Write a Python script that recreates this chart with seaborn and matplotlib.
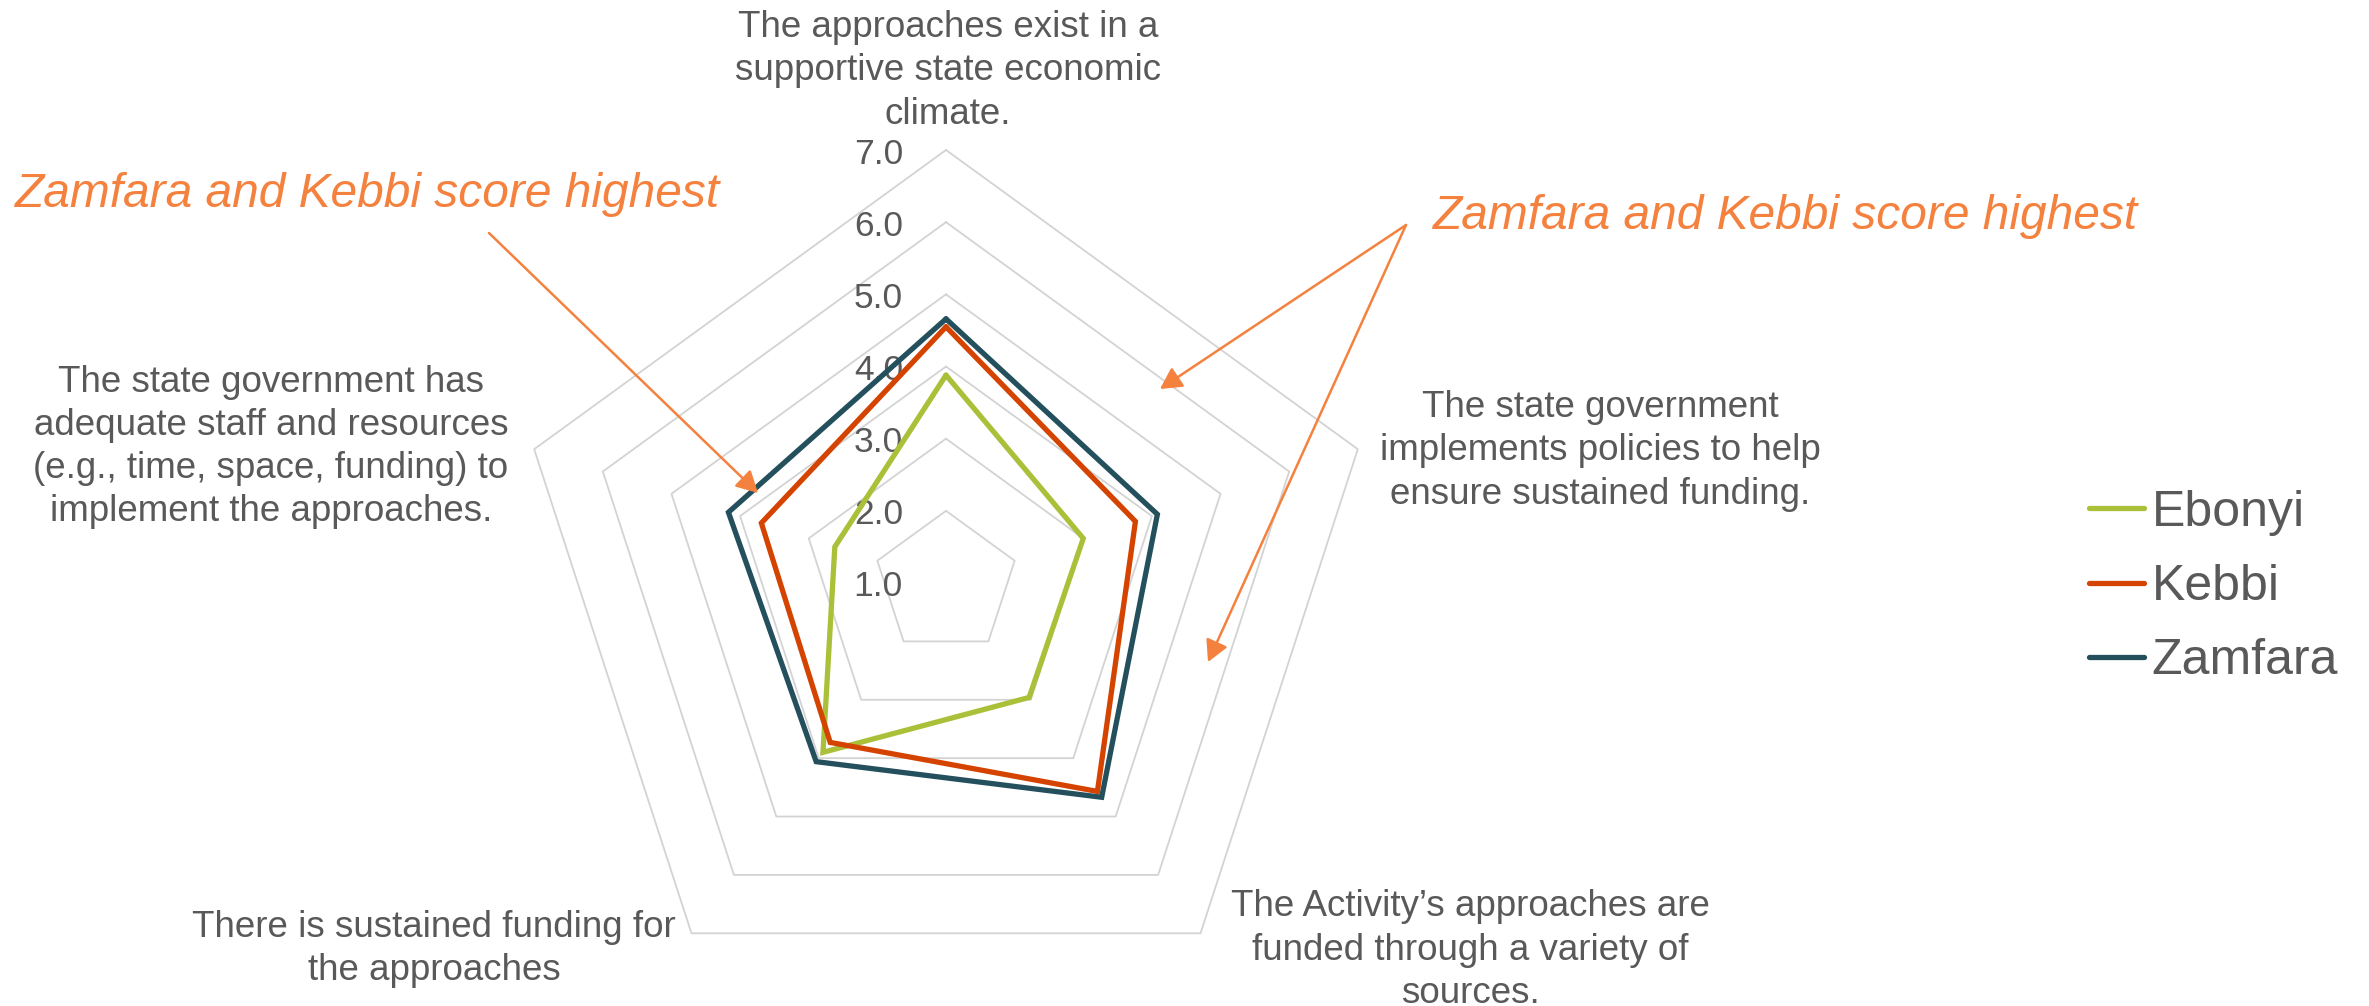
import matplotlib
matplotlib.use('Agg')
import matplotlib.pyplot as plt
from matplotlib.transforms import offset_copy
import numpy as np
import pandas as pd
import seaborn as sns

# data (clockwise from top)
categories = [
    'The approaches exist in a\nsupportive state economic\nclimate.',
    'The state government\nimplements policies to help\nensure sustained funding.',
    'The Activity\u2019s approaches are\nfunded through a variety of\nsources.',
    'There is sustained funding for\nthe approaches',
    'The state government has\nadequate staff and resources\n(e.g., time, space, funding) to\nimplement the approaches.',
]
states = ['Ebonyi', 'Kebbi', 'Zamfara']
ebonyi = [3.88, 3.00, 2.96, 3.90, 2.62]
kebbi = [4.55, 3.76, 4.57, 3.73, 3.69]
zamfara = [4.66, 4.08, 4.67, 4.06, 4.17]
levels = [1, 2, 3, 4, 5, 6, 7]

colors = ['#AAC039', '#D54300', '#244F5C']
gray = '#595959'
orange = '#F4813E'

sns.set_style('white')
plt.rcParams['font.family'] = ['Liberation Sans', 'DejaVu Sans']

W, H = 2369, 1006
fig = plt.figure(figsize=(W / 100, H / 100), dpi=100)

# polar axes placed so the centre sits where the reference has it
cx, cy, rad = 946, 583, 433
ax = fig.add_axes([(cx - rad) / W, (H - cy - rad) / H, 2 * rad / W, 2 * rad / H],
                  projection='polar')
ax.set_theta_zero_location('N')
ax.set_theta_direction(-1)
ax.set_ylim(1, 7)
ax.set_xticks([])
ax.set_yticks([])
ax.grid(False)
ax.spines['polar'].set_visible(False)
ax.patch.set_alpha(0)

n = len(categories)
theta = np.linspace(0, 2 * np.pi, n, endpoint=False)
theta_closed = np.append(theta, theta[0])

# pentagon gridlines
for lvl in levels[1:]:
    ax.plot(theta_closed, [lvl] * (n + 1), color='#D3D3D3', lw=1.3, clip_on=False, zorder=1)

rows = []
for st, vals in zip(states, [ebonyi, kebbi, zamfara]):
    closed = list(vals) + [vals[0]]
    for i, v in enumerate(closed):
        rows.append({'state': st, 'theta': theta_closed[i], 'score': v})
df = pd.DataFrame(rows)

n_before = len(ax.lines)
sns.lineplot(data=df, x='theta', y='score', hue='state', hue_order=states,
             palette=colors, sort=False, estimator=None, units='state',
             lw=3.8, legend=False, ax=ax, zorder=3)
for ln in ax.lines[n_before:]:
    ln.set_solid_joinstyle('miter')
    ln.set_clip_on(False)

# radial value labels
tick_tr = offset_copy(ax.transData, fig=fig, x=-43, y=-4, units='dots')
for lvl in levels:
    ax.text(0, lvl, f'{lvl:.1f}', transform=tick_tr, ha='right', va='center',
            fontsize=25.5, color=gray, zorder=1)

# category labels
def fx(x):
    return x / W

def fy(y):
    return 1 - y / H

label_pos = [(948, 71), (1600, 451), (1470, 950), (434, 949), (271, 447)]
for lab, (x, y) in zip(categories, label_pos):
    fig.text(fx(x), fy(y), lab, ha='center', va='center', fontsize=26.5,
             color=gray, linespacing=1.3)

# annotations
fig.text(fx(15), fy(207), 'Zamfara and Kebbi score highest', fontsize=34.5,
         style='italic', color=orange, ha='left', va='baseline')
fig.text(fx(1433), fy(229), 'Zamfara and Kebbi score highest', fontsize=34.5,
         style='italic', color=orange, ha='left', va='baseline')

arrows = [((489, 233), (758, 493)), ((1406, 225), (1160, 389)), ((1406, 225), (1208, 662))]
for (x0, y0), (x1, y1) in arrows:
    ax.annotate('', xy=(x1, H - y1), xytext=(x0, H - y0),
                xycoords='figure pixels', textcoords='figure pixels',
                arrowprops=dict(arrowstyle='-|>,head_length=0.65,head_width=0.35',
                                mutation_scale=20, lw=1.8, color=orange,
                                shrinkA=0, shrinkB=0))

handles = ax.lines[n_before:n_before + 3]
fig.legend(handles, states, loc='center left',
           bbox_to_anchor=(fx(2089), fy(587)), frameon=False, fontsize=36,
           labelcolor=gray, handlelength=1.1, handletextpad=0.15,
           labelspacing=0.57, borderpad=0, borderaxespad=0)

fig.savefig('out.png', dpi=100)
